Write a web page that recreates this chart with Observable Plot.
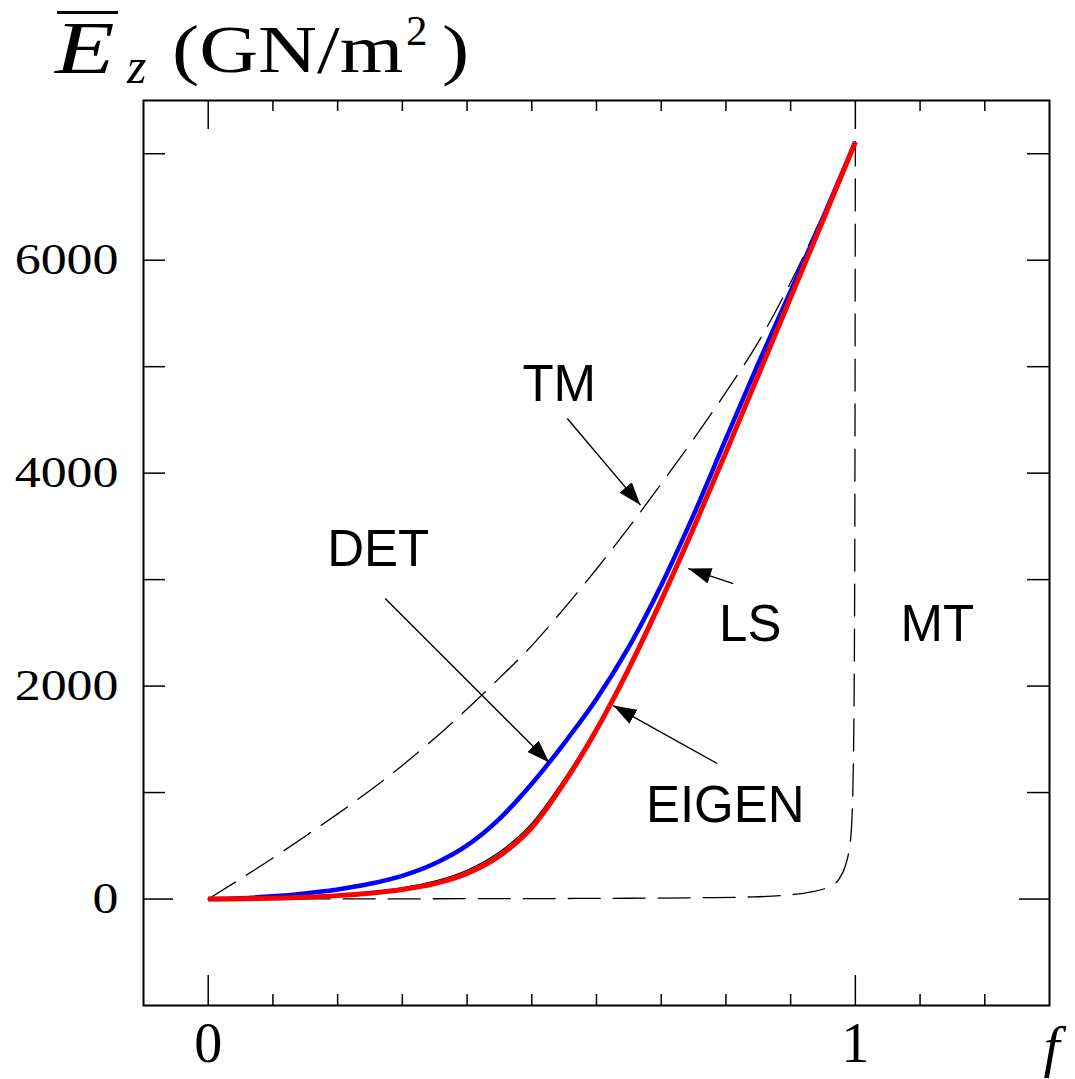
<!DOCTYPE html>
<html>
<head>
<meta charset="utf-8">
<script src="https://cdn.jsdelivr.net/npm/d3@7"></script>
<script src="https://cdn.jsdelivr.net/npm/@observablehq/plot@0.6"></script>
<style>
html, body { margin: 0; padding: 0; background: #fff; }
#wrap { position: relative; width: 1075px; height: 1079px; overflow: hidden; }
#chart { position: absolute; left: 0; top: 0; }
#title span, #title div { position: absolute; line-height: 1; font-family: "Liberation Serif", "Times New Roman", serif; color: #000; white-space: pre; }
</style>
</head>
<body>
<div id="wrap">
  <div id="chart"></div>
  <div id="title">
    <div style="left:57px; top:11px; width:61px; height:2.5px; background:#000;"></div>
    <span style="left:55px; top:10px; font-size:75px; font-style:italic; transform:scaleX(1.3); transform-origin:left top;">E</span>
    <span style="left:127px; top:41px; font-size:50px; font-style:italic;">z</span>
    <span style="left:172px; top:15px; font-size:68px; transform:scaleX(1.2); transform-origin:left top;">(GN/m</span>
    <span style="left:406px; top:9px; font-size:43px;">2</span>
    <span style="left:442px; top:15px; font-size:68px; transform:scaleX(1.2); transform-origin:left top;">)</span>
  </div>
</div>
<script>
// ---- data ----
const fGrid       = [0, 0.05, 0.1, 0.15, 0.2, 0.25, 0.3, 0.35, 0.4, 0.45, 0.5, 0.55, 0.6, 0.65, 0.7, 0.75, 0.8, 0.85, 0.9, 0.95, 1.0];
const detValues   = [0, 8, 25, 53, 90, 143, 218, 333, 503, 753, 1083, 1463, 1878, 2368, 2948, 3608, 4323, 5030, 5710, 6400, 7110];
const eigenValues = [0, 2, 8, 17, 32, 55, 90, 145, 240, 405, 670, 1090, 1590, 2165, 2805, 3485, 4195, 4920, 5650, 6375, 7110];
const lsValues    = [0, 2, 10, 21, 39, 65, 105, 167, 270, 441, 710, 1125, 1612, 2175, 2805, 3485, 4195, 4920, 5650, 6375, 7110];
const tmValues    = [0, 190, 385, 590, 800, 1020, 1255, 1510, 1785, 2075, 2380, 2730, 3100, 3490, 3900, 4320, 4760, 5230, 5790, 6430, 7110];
const mtF         = [0, 0.3, 0.6, 0.75, 0.84, 0.9, 0.93, 0.96, 0.975, 0.985, 0.99, 0.994, 0.997, 0.999, 1.0];
const mtValues    = [0, 2, 6, 12, 20, 40, 65, 118, 190, 320, 450, 670, 1300, 3000, 7110];

const xMinorTicks = [0.1, 0.2, 0.3, 0.4, 0.5, 0.6, 0.7, 0.8, 0.9, 1.1, 1.2];
const xMajorTicks = [0, 1];
const xTickLabels = ["0", "1"];
const yMinorTicks = [1000, 2000, 3000, 4000, 5000, 6000, 7000];
const yMajorTicks = [0];
const yLabelValues = [0, 2000, 4000, 6000];
const yTickLabels = ["0", "2000", "4000", "6000"];

const curveLabels = ["TM", "DET", "LS", "EIGEN", "MT"];
const curveLabelF = [0.5424, 0.2627, 0.8376, 0.799, 1.1266];
const curveLabelE = [4832, 3283, 2578, 878, 2578];

const arrowFromF = [0.5548, 0.2735, 0.8113, 0.7866];
const arrowFromE = [4513, 2822, 2963, 1273];
const arrowToF   = [0.668, 0.527, 0.7418, 0.6259];
const arrowToE   = [3700, 1282, 3104, 1817];

// ---- tables ----
const rows = (fs, vs) => fs.map((f, i) => ({f, E: vs[i]}));
const detRows = rows(fGrid, detValues);
const eigenRows = rows(fGrid, eigenValues);
const lsRows = rows(fGrid, lsValues);
const tmRows = rows(fGrid, tmValues);
const mtRows = rows(mtF, mtValues);
const labelRows = curveLabels.map((t, i) => ({t, f: curveLabelF[i], E: curveLabelE[i]}));
const arrowRows = arrowFromF.map((f, i) => ({f1: f, E1: arrowFromE[i], f2: arrowToF[i], E2: arrowToE[i]}));
const xLabelRows = xMajorTicks.map((v, i) => ({v, t: xTickLabels[i]}));
const yLabelRows = yLabelValues.map((v, i) => ({v, t: yTickLabels[i]}));

const W = 1075, H = 1079, mL = 143, mR = 26, mT = 100, mB = 74;
const pw = W - mL - mR, ph = H - mT - mB;
const serif = "Liberation Serif, Times New Roman, serif";
const sans = "Liberation Sans, Arial, Helvetica, sans-serif";

const plot = Plot.plot({
  width: W, height: H,
  marginLeft: mL, marginRight: mR, marginTop: mT, marginBottom: mB,
  x: {domain: [-0.1, 1.3], axis: null},
  y: {domain: [-1000, 7500], axis: null},
  style: {background: "white", color: "black"},
  marks: [
    // ticks (inward, all four sides)
    Plot.tickX(xMinorTicks, {x: d => d, insetTop: ph - 11, stroke: "black", strokeWidth: 1.5}),
    Plot.tickX(xMinorTicks, {x: d => d, insetBottom: ph - 11, stroke: "black", strokeWidth: 1.5}),
    Plot.tickX(xMajorTicks, {x: d => d, insetTop: ph - 30, stroke: "black", strokeWidth: 1.5}),
    Plot.tickX(xMajorTicks, {x: d => d, insetBottom: ph - 29, stroke: "black", strokeWidth: 1.5}),
    Plot.tickY(yMinorTicks, {y: d => d, insetRight: pw - 22, stroke: "black", strokeWidth: 1.5}),
    Plot.tickY(yMinorTicks, {y: d => d, insetLeft: pw - 22, stroke: "black", strokeWidth: 1.5}),
    Plot.tickY(yMajorTicks, {y: d => d, insetRight: pw - 30, stroke: "black", strokeWidth: 1.5}),
    Plot.tickY(yMajorTicks, {y: d => d, insetLeft: pw - 30, stroke: "black", strokeWidth: 1.5}),
    // curves
    Plot.line(tmRows, {x: "f", y: "E", stroke: "black", strokeWidth: 1.3, strokeDasharray: "32,13", curve: "monotone-x"}),
    Plot.line(mtRows, {x: "f", y: "E", stroke: "black", strokeWidth: 1.3, strokeDasharray: "32,13", curve: "monotone-x"}),
    Plot.line(lsRows, {x: "f", y: "E", stroke: "black", strokeWidth: 1.3, curve: "monotone-x"}),
    Plot.line(detRows, {x: "f", y: "E", stroke: "#0000ff", strokeWidth: 4.5, strokeLinecap: "butt", curve: "monotone-x"}),
    Plot.line(eigenRows, {x: "f", y: "E", stroke: "#ff0000", strokeWidth: 5, strokeLinecap: "butt", curve: "monotone-x"}),
    // annotation arrows and labels
    Plot.link(arrowRows, {x1: "f1", y1: "E1", x2: "f2", y2: "E2", stroke: "black", strokeWidth: 1.4, markerEnd: "arrow"}),
    Plot.text(labelRows, {x: "f", y: "E", text: "t", fontSize: 51, fontFamily: sans, fill: "black"}),
    // tick labels
    Plot.text(xLabelRows, {x: "v", text: "t", frameAnchor: "bottom", lineAnchor: "bottom", dy: 56, fontSize: 56, fontFamily: serif, fill: "black"}),
    Plot.text(yLabelRows, {y: "v", text: "t", frameAnchor: "left", textAnchor: "end", dx: -25, fontSize: 44, fontFamily: serif, fill: "black"}),
    Plot.text(["f"], {text: d => d, frameAnchor: "bottom-right", lineAnchor: "bottom", dx: 10, dy: 60, fontSize: 58, fontStyle: "italic", fontFamily: serif, fill: "black"}),
    Plot.frame({stroke: "black", strokeWidth: 2})
  ]
});

// filled triangular arrowheads
plot.querySelectorAll("marker").forEach(m => {
  m.setAttribute("viewBox", "-23 -8 23 16");
  m.setAttribute("markerWidth", "23");
  m.setAttribute("markerHeight", "16");
  m.setAttribute("markerUnits", "userSpaceOnUse");
  m.setAttribute("fill", "black");
  m.setAttribute("stroke", "none");
  while (m.firstChild) m.removeChild(m.firstChild);
  const p = document.createElementNS("http://www.w3.org/2000/svg", "path");
  p.setAttribute("d", "M-23,-8L0,0L-23,8Z");
  m.appendChild(p);
});
// horizontally stretched y tick labels (the reference's numbers are wide)
plot.querySelectorAll("text").forEach(t => {
  const g = t.closest("g");
  if (!g || g.getAttribute("font-size") !== "44") return;
  const tr = t.getAttribute("transform");
  if (tr) {
    t.setAttribute("transform", tr + " scale(1.18,1)");
  } else {
    const x = +(t.getAttribute("x") || 0), y = +(t.getAttribute("y") || 0);
    t.setAttribute("transform", `translate(${x},${y}) scale(1.18,1) translate(${-x},${-y})`);
  }
});

document.getElementById("chart").appendChild(plot);
</script>
</body>
</html>
